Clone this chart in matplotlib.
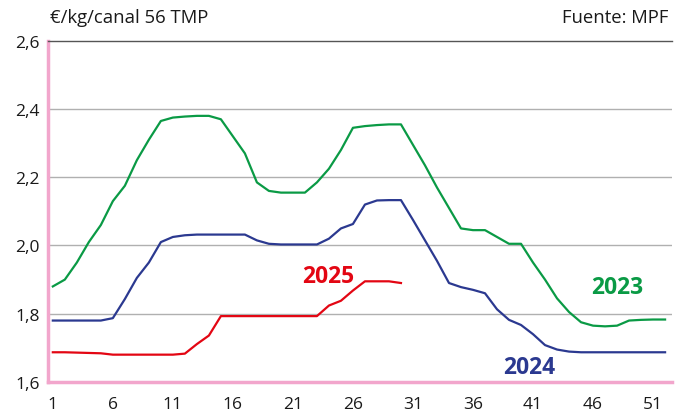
import matplotlib.pyplot as plt
import numpy as np

plt.rcParams['font.family'] = ['Open Sans', 'DejaVu Sans']

# semanas y precios (€/kg canal)
weeks = np.arange(1, 53)
y2023 = [1.88, 1.90, 1.95, 2.01, 2.06, 2.13, 2.175, 2.25, 2.31, 2.365,
         2.375, 2.378, 2.38, 2.38, 2.37, 2.32, 2.27, 2.185, 2.16, 2.155,
         2.155, 2.155, 2.185, 2.225, 2.28, 2.345, 2.35, 2.353, 2.355, 2.355,
         2.295, 2.235, 2.17, 2.11, 2.05, 2.045, 2.045, 2.025, 2.005, 2.005,
         1.95, 1.90, 1.845, 1.805, 1.775, 1.765, 1.763, 1.765, 1.78, 1.782,
         1.783, 1.783]
y2024 = [1.78, 1.78, 1.78, 1.78, 1.78, 1.787, 1.843, 1.905, 1.95, 2.01,
         2.025, 2.03, 2.032, 2.032, 2.032, 2.032, 2.032, 2.015, 2.005, 2.003,
         2.003, 2.003, 2.003, 2.02, 2.05, 2.063, 2.12, 2.132, 2.133, 2.133,
         2.075, 2.015, 1.955, 1.89, 1.878, 1.87, 1.86, 1.813, 1.782, 1.767,
         1.74, 1.708, 1.695, 1.689, 1.687, 1.687, 1.687, 1.687, 1.687, 1.687,
         1.687, 1.687]
y2025 = [1.687, 1.687, 1.686, 1.685, 1.684, 1.68, 1.68, 1.68, 1.68, 1.68,
         1.68, 1.683, 1.711, 1.736, 1.793, 1.793, 1.793, 1.793, 1.793, 1.793,
         1.793, 1.793, 1.793, 1.824, 1.838, 1.868, 1.895, 1.895, 1.895, 1.89]

green = '#0a9a45'
blue = '#2b3990'
red = '#e30613'
pink = '#f2a6cc'

fig = plt.figure(figsize=(6.86, 4.14), dpi=100)
ax = fig.add_axes([0.070, 0.075, 0.910, 0.824])

ax.plot(weeks, y2023, color=green, lw=1.6)
ax.plot(weeks, y2024, color=blue, lw=1.6)
ax.plot(weeks[:len(y2025)], y2025, color=red, lw=1.6)

ax.set_xlim(0.6, 52.6)
ax.set_ylim(1.6, 2.6)
ax.set_xticks(np.arange(1, 53, 5))
ax.set_yticks([1.6, 1.8, 2.0, 2.2, 2.4, 2.6])
ax.set_yticklabels(['1,6', '1,8', '2,0', '2,2', '2,4', '2,6'])
ax.tick_params(length=0, labelsize=12.5, colors='#1a1a1a', pad=6)
ax.tick_params(axis='x', pad=10)

for y in [1.8, 2.0, 2.2, 2.4]:
    ax.axhline(y, color='#b0b0b0', lw=1.0, zorder=0)

ax.spines['right'].set_visible(False)
ax.spines['top'].set_color('#555555')
ax.spines['top'].set_linewidth(1.0)
ax.spines['left'].set_color(pink)
ax.spines['left'].set_linewidth(2.5)
ax.spines['bottom'].set_color(pink)
ax.spines['bottom'].set_linewidth(2.5)

ax.text(21.75, 1.911, '2025', color=red, fontsize=16.5, fontweight='bold', ha='left', va='center')
ax.text(48.0, 1.879, '2023', color=green, fontsize=16.5, fontweight='bold', ha='center', va='center')
ax.text(40.7, 1.644, '2024', color=blue, fontsize=16.5, fontweight='bold', ha='center', va='center')

fig.text(50 / 686, 1 - 18 / 414, '€/kg/canal 56 TMP', fontsize=13.3, color='#1a1a1a', ha='left', va='center')
fig.text(668 / 686, 1 - 18 / 414, 'Fuente: MPF', fontsize=13.3, color='#1a1a1a', ha='right', va='center')

fig.savefig('out.png', dpi=100)
